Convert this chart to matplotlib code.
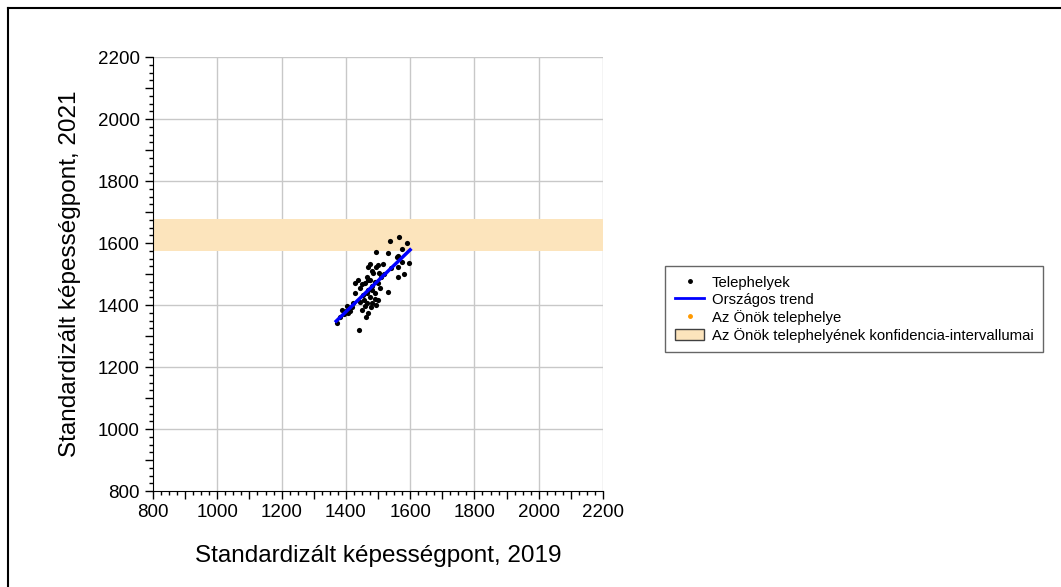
import matplotlib
matplotlib.use("Agg")
import matplotlib.pyplot as plt
from matplotlib.ticker import MultipleLocator, FuncFormatter
from matplotlib.lines import Line2D
from matplotlib.patches import Patch

plt.rcParams['font.family'] = ['Liberation Sans', 'DejaVu Sans']

# telephelyek (2019 -> 2021)
x_sites = [1538, 1566, 1591, 1494, 1530, 1575, 1597, 1563, 1576, 1561,
           1517, 1475, 1494, 1470, 1562, 1485, 1504, 1465, 1475, 1437,
           1428, 1449, 1491, 1506, 1480, 1532, 1428, 1454, 1475, 1491,
           1501, 1444, 1465, 1482, 1423, 1460, 1478, 1403, 1387, 1413,
           1394, 1408, 1470, 1463, 1382, 1372, 1442,
           1445, 1460, 1470, 1480, 1490, 1455, 1500, 1510, 1520, 1480,
           1465, 1495, 1450, 1420, 1400, 1560, 1540, 1580, 1500, 1470]
y_sites = [1607, 1618, 1601, 1570, 1567, 1580, 1536, 1558, 1540, 1524,
           1532, 1532, 1524, 1522, 1489, 1504, 1502, 1491, 1481, 1481,
           1472, 1468, 1475, 1454, 1448, 1443, 1440, 1432, 1425, 1418,
           1416, 1411, 1407, 1407, 1405, 1397, 1393, 1397, 1384, 1382,
           1371, 1373, 1375, 1360, 1362, 1343, 1319,
           1455, 1470, 1450, 1460, 1440, 1415, 1470, 1490, 1500, 1510,
           1440, 1400, 1385, 1395, 1380, 1555, 1520, 1500, 1530, 1480]

# orszagos trend
trend_x = [1370, 1600]
trend_y = [1348, 1578]

# konfidencia-intervallum
ci_low, ci_high = 1575, 1677

ax_min, ax_max = 800, 2200

fig = plt.figure(figsize=(10.61, 5.87), dpi=100)
ax = fig.add_axes([153 / 1061, 1 - 491 / 587, 450 / 1061, 434 / 587])

ax.axhspan(ci_low, ci_high, color='#FCE4BC', zorder=1, lw=0)
for v in range(ax_min + 200, ax_max + 1, 200):
    ax.axhline(v, color='#C8C8C8', lw=1, zorder=0.5)
    ax.axvline(v, color='#C8C8C8', lw=1, zorder=0.5)

ax.scatter(x_sites, y_sites, s=14, color='black', zorder=3, linewidths=0)
ax.plot(trend_x, trend_y, color='#0000FF', lw=2.5, zorder=4)

ax.set_xlim(ax_min, ax_max)
ax.set_ylim(ax_min, ax_max)

for a in (ax.xaxis, ax.yaxis):
    a.set_major_locator(MultipleLocator(100))
    a.set_minor_locator(MultipleLocator(25))
    a.set_major_formatter(FuncFormatter(lambda v, p: f"{int(v)}" if int(v) % 200 == 0 else ""))

ax.tick_params(which='major', length=6, width=1, labelsize=13.5, direction='out')
ax.tick_params(which='minor', length=3, width=1, direction='out')
ax.spines['top'].set_visible(False)
ax.spines['right'].set_visible(False)

ax.set_xlabel('Standardizált képességpont, 2019', fontsize=17.5, labelpad=17)
ax.set_ylabel('Standardizált képességpont, 2021', fontsize=17.5, labelpad=12)

handles = [
    Line2D([], [], marker='o', color='black', ls='none', markersize=2.5),
    Line2D([], [], color='#0000FF', lw=2),
    Line2D([], [], marker='o', color='#FF9900', ls='none', markersize=2.5),
    Patch(facecolor='#FCE4BC', edgecolor='#404040', lw=1),
]
labels = ['Telephelyek', 'Országos trend', 'Az Önök telephelye',
          'Az Önök telephelyének konfidencia-intervallumai']
leg = fig.legend(handles, labels, loc='upper left',
                 bbox_to_anchor=(665 / 1061, 1 - 266 / 587),
                 fontsize=10.7, frameon=True, fancybox=False,
                 edgecolor='#404040', borderaxespad=0, handlelength=2.0,
                 labelspacing=0.2, borderpad=0.65, handletextpad=0.5)
leg.get_frame().set_linewidth(1)

# outer frame (top and left edges)
fig.add_artist(Line2D([8 / 1061, 1], [1 - 8 / 587, 1 - 8 / 587], color='black', lw=1.5,
                      transform=fig.transFigure))
fig.add_artist(Line2D([8 / 1061, 8 / 1061], [0, 1 - 8 / 587], color='black', lw=1.5,
                      transform=fig.transFigure))

fig.savefig('out.png', dpi=100)
